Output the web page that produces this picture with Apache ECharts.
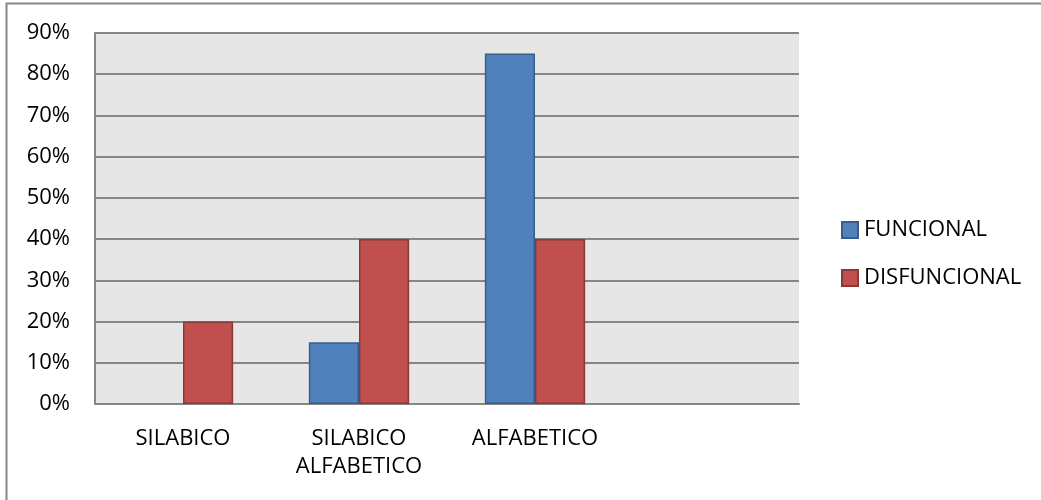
<!DOCTYPE html>
<html>
<head>
<meta charset="utf-8">
<script src="https://cdn.jsdelivr.net/npm/echarts@6/dist/echarts.min.js"></script>
<style>html,body{margin:0;padding:0;background:#fff}#c{width:1041px;height:500px}</style>
</head>
<body>
<div id="c"></div>
<script>
const categories = ['SILABICO', 'SILABICO\nALFABETICO', 'ALFABETICO', ''];
const funcional = [0, 15, 85, null];
const disfuncional = [20, 40, 40, null];
const yTicks = [0, 10, 20, 30, 40, 50, 60, 70, 80, 90];

const chart = echarts.init(document.getElementById('c'));
const font = 'Open Sans, Liberation Sans, sans-serif';
const toItems = (arr) => arr.map(v => ({ value: v, itemStyle: v === 0 ? { borderWidth: 0 } : {} }));
chart.setOption({
  animation: false,
  backgroundColor: '#fff',
  graphic: [{
    type: 'polyline', silent: true,
    shape: { points: [[6.5, 600], [6.5, 3.5], [1100, 3.5]] },
    style: { stroke: '#868686', lineWidth: 2, fill: null }
  }],
  grid: { left: 95, right: 242, top: 33, bottom: 96, show: true, backgroundColor: '#E6E6E6', borderWidth: 0 },
  legend: {
    orient: 'vertical', left: 841, top: 219, padding: 0, itemWidth: 16, itemHeight: 16, itemGap: 26,
    icon: 'rect',
    textStyle: { fontFamily: font, fontSize: 22, color: '#000', padding: [0, 0, 0, 1] },
    data: ['FUNCIONAL', 'DISFUNCIONAL']
  },
  xAxis: {
    type: 'category', data: categories,
    axisLine: { lineStyle: { color: '#868686', width: 2 } },
    axisTick: { show: false },
    axisLabel: { fontFamily: font, fontSize: 22, color: '#000', margin: 21, lineHeight: 28, interval: 0 }
  },
  yAxis: {
    type: 'value', min: 0, max: 90, interval: 10,
    axisLine: { show: true, lineStyle: { color: '#868686', width: 2 } },
    axisTick: { show: false },
    splitLine: { lineStyle: { color: '#868686', width: 2 } },
    axisLabel: { fontFamily: font, fontSize: 22, color: '#000', margin: 25,
      formatter: v => yTicks.includes(v) ? v + '%' : '' }
  },
  series: [
    { name: 'FUNCIONAL', type: 'bar', data: toItems(funcional), barGap: '0%', barCategoryGap: '43%',
      itemStyle: { color: '#4F81BD', borderColor: '#385D8A', borderWidth: 1.5 } },
    { name: 'DISFUNCIONAL', type: 'bar', data: toItems(disfuncional),
      itemStyle: { color: '#C0504D', borderColor: '#8C3836', borderWidth: 1.5 } }
  ]
});
</script>
</body>
</html>
